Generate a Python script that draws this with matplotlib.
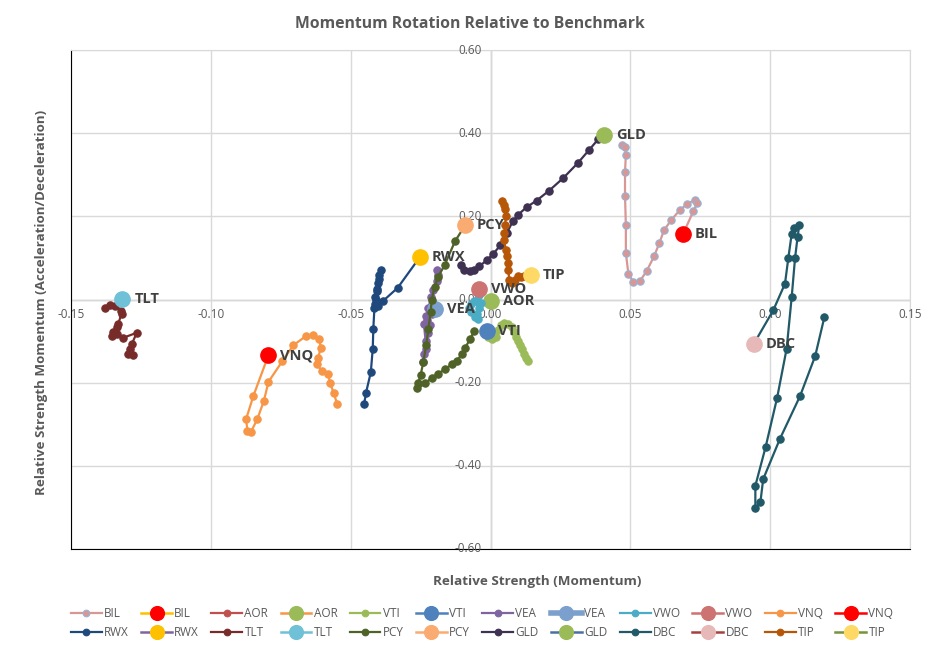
#!/usr/bin/env python3

"""Momentum rotation chart: trails of relative strength vs. its momentum,
with the latest reading of each ticker drawn as a big labelled dot."""

import matplotlib
matplotlib.use("Agg")
from matplotlib import pyplot as plt

plt.rcParams['font.family'] = ['Open Sans', 'DejaVu Sans']

# trails (oldest -> newest)
bil_x = [0.0469, 0.0481, 0.0484, 0.0481, 0.0481, 0.0484, 0.0484, 0.0493, 0.0511, 0.0535,
         0.0558, 0.0585, 0.0604, 0.0620, 0.0645, 0.0678, 0.0704, 0.0731, 0.0740, 0.0725, 0.0689]
bil_y = [0.372, 0.367, 0.348, 0.307, 0.250, 0.178, 0.112, 0.062, 0.042, 0.045,
         0.068, 0.104, 0.136, 0.166, 0.190, 0.216, 0.230, 0.240, 0.232, 0.212, 0.158]

aor_x = [0.0006, -0.0004, 0.0001]
aor_y = [-0.002, -0.005, -0.003]

vti_x = [0.0135, 0.0128, 0.0120, 0.0112, 0.0105, 0.0098, 0.0090, 0.0083, 0.0076, 0.0064,
         0.0050, 0.0038, 0.0028, 0.0018, 0.0005, -0.0008, -0.0014]
vti_y = [-0.148, -0.140, -0.130, -0.120, -0.110, -0.100, -0.090, -0.078, -0.066, -0.058,
         -0.056, -0.062, -0.074, -0.090, -0.096, -0.090, -0.075]

vea_x = [-0.0190, -0.0188, -0.0193, -0.0205, -0.0212, -0.0222, -0.0230, -0.0238, -0.0232,
         -0.0236, -0.0242, -0.0230, -0.0225, -0.0218, -0.0228, -0.0210, -0.0198]
vea_y = [0.072, 0.058, 0.044, 0.024, 0.006, -0.020, -0.040, -0.060, -0.100,
         -0.130, -0.150, -0.120, -0.080, -0.062, -0.050, -0.035, -0.024]

vwo_x = [-0.0041, -0.0035, -0.0040, -0.0050, -0.0045, -0.0055, -0.0068, -0.0078, -0.0070,
         -0.0060, -0.0045]
vwo_y = [0.010, -0.008, -0.020, -0.035, -0.048, -0.042, -0.030, -0.020, -0.010,
         -0.004, -0.006]

vnq_x = [-0.0548, -0.0560, -0.0574, -0.0580, -0.0604, -0.0619, -0.0616, -0.0607, -0.0612,
         -0.0634, -0.0660, -0.0705, -0.0744, -0.0794, -0.0810, -0.0834, -0.0857, -0.0869,
         -0.0874, -0.0848, -0.0794]
vnq_y = [-0.252, -0.226, -0.200, -0.180, -0.172, -0.156, -0.140, -0.116, -0.096,
         -0.086, -0.088, -0.110, -0.148, -0.198, -0.243, -0.288, -0.319, -0.316,
         -0.288, -0.232, -0.134]

rwx_x = [-0.0452, -0.0445, -0.0428, -0.0421, -0.0419, -0.0415, -0.0410, -0.0405, -0.0401,
         -0.0397, -0.0392, -0.0399, -0.0405, -0.0412, -0.0414, -0.0401, -0.0385, -0.0332,
         -0.0252]
rwx_y = [-0.252, -0.224, -0.175, -0.118, -0.070, -0.020, 0.000, 0.020, 0.040,
         0.060, 0.072, 0.050, 0.026, 0.006, -0.012, -0.016, -0.004, 0.028,
         0.1025]

tlt_x = [-0.1280, -0.1295, -0.1289, -0.1283, -0.1265, -0.1313, -0.1336, -0.1354, -0.1351,
         -0.1336, -0.1331, -0.1319, -0.1321, -0.1343, -0.1360, -0.1378]
tlt_y = [-0.134, -0.130, -0.120, -0.108, -0.080, -0.092, -0.084, -0.088, -0.078,
         -0.066, -0.058, -0.034, -0.028, -0.016, -0.014, -0.020]

pcy_x = [-0.0059, -0.0073, -0.0091, -0.0103, -0.0121, -0.0139, -0.0163, -0.0187, -0.0210,
         -0.0234, -0.0262, -0.0258, -0.0250, -0.0240, -0.0230, -0.0222, -0.0214, -0.0210,
         -0.0200, -0.0187, -0.0163, -0.0127, -0.0091]
pcy_y = [-0.076, -0.096, -0.116, -0.132, -0.148, -0.156, -0.168, -0.178, -0.188,
         -0.202, -0.214, -0.200, -0.182, -0.150, -0.110, -0.070, -0.030, 0.000,
         0.030, 0.055, 0.084, 0.140, 0.178]

gld_x = [-0.0105, -0.0093, -0.0075, -0.0058, -0.0040, -0.0014, 0.0010, 0.0035, 0.0058,
         0.0080, 0.0099, 0.0129, 0.0165, 0.0210, 0.0260, 0.0312, 0.0353, 0.0386, 0.0407]
gld_y = [0.082, 0.070, 0.068, 0.072, 0.080, 0.094, 0.110, 0.130, 0.160,
         0.188, 0.204, 0.222, 0.238, 0.262, 0.292, 0.328, 0.360, 0.386, 0.396]

dbc_x = [0.1194, 0.1161, 0.1107, 0.1035, 0.0975, 0.0965, 0.0947, 0.0947, 0.0984, 0.1025,
         0.1059, 0.1077, 0.1089, 0.1098, 0.1104, 0.1085, 0.1077, 0.1065, 0.1053, 0.1011, 0.0942]
dbc_y = [-0.042, -0.136, -0.232, -0.335, -0.432, -0.488, -0.502, -0.448, -0.354, -0.236,
         -0.118, 0.006, 0.100, 0.150, 0.178, 0.172, 0.158, 0.100, 0.038, -0.026, -0.106]

tip_x = [0.0040, 0.0047, 0.0052, 0.0055, 0.0052, 0.0050, 0.0048, 0.0055, 0.0058, 0.0062,
         0.0064, 0.0067, 0.0078, 0.0088, 0.0099, 0.0110, 0.0121, 0.0145]
tip_y = [0.236, 0.228, 0.218, 0.200, 0.178, 0.160, 0.142, 0.120, 0.104, 0.088,
         0.070, 0.046, 0.040, 0.046, 0.056, 0.054, 0.056, 0.060]

# latest reading of each ticker
tickers = ['BIL', 'AOR', 'VTI', 'VEA', 'VWO', 'VNQ', 'RWX', 'TLT', 'PCY', 'GLD', 'DBC', 'TIP']
head_x = [0.0689, 0.0001, -0.0014, -0.0198, -0.0041, -0.0794, -0.0252, -0.1316, -0.0091,
          0.0407, 0.0942, 0.0145]
head_y = [0.158, -0.003, -0.075, -0.024, 0.025, -0.134, 0.1025, 0.002, 0.178,
          0.396, -0.106, 0.060]

trails = [(bil_x, bil_y), (aor_x, aor_y), (vti_x, vti_y), (vea_x, vea_y), (vwo_x, vwo_y),
          (vnq_x, vnq_y), (rwx_x, rwx_y), (tlt_x, tlt_y), (pcy_x, pcy_y), (gld_x, gld_y),
          (dbc_x, dbc_y), (tip_x, tip_y)]

x_ticks = [-0.15, -0.10, -0.05, 0.00, 0.05, 0.10, 0.15]
y_ticks = [-0.60, -0.40, -0.20, 0.00, 0.20, 0.40, 0.60]

trail_colors = ['#D99694', '#C0504D', '#9BBB59', '#8064A2', '#4BACC6', '#F79646',
                '#1F497D', '#772C2A', '#4F6228', '#3F3151', '#215968', '#B65708']
head_colors = ['#FF0000', '#9BBB59', '#4F81BD', '#7BA0CD', '#CD7371', '#FF0000',
               '#FFC000', '#6EC1D6', '#FAAB71', '#9BBB59', '#E6B9B8', '#FFD966']
head_line_colors = ['#FFC000', '#F79646', '#4F81BD', '#7BA0CD', '#CD7371', '#FF0000',
                    '#8064A2', '#6EC1D6', '#FAAB71', '#4A6FA5', '#A5403E', '#77933C']

TEXT = '#595959'

fig = plt.figure(figsize=(9.4, 6.48), dpi=100)
ax = fig.add_axes((71 / 940, 1 - 549 / 648, 839 / 940, 499 / 648))
ax.set_xlim(-0.15, 0.15)
ax.set_ylim(-0.60, 0.60)
ax.set_xticks(x_ticks)
ax.set_yticks(y_ticks)
ax.tick_params(length=0, labelbottom=False, labelleft=False)
ax.grid(True, color='#D9D9D9', linewidth=1)
ax.set_axisbelow(True)
for side in ('top', 'right'):
    ax.spines[side].set_color('#D9D9D9')
for side in ('left', 'bottom'):
    ax.spines[side].set_color('black')
ax.axhline(0, color='#BFBFBF', linewidth=1, zorder=0.5)
ax.axvline(0, color='#BFBFBF', linewidth=1, zorder=0.5)

# tick labels sit on the zero lines, like Excel's crossing axes
for v in x_ticks:
    ax.annotate(f'{v:.2f}', (v, 0), xytext=(0, -6), textcoords='offset points',
                ha='center', va='top', fontsize=8.5, color=TEXT, annotation_clip=False)
for v in y_ticks:
    ax.annotate(f'{v:.2f}', (0, v), xytext=(-6.5, 0), textcoords='offset points',
                ha='right', va='center', fontsize=8.5, color=TEXT, annotation_clip=False)

trail_handles, head_handles = [], []
z = 2
for i, name in enumerate(tickers):
    tx, ty = trails[i]
    c = trail_colors[i]
    edge = '#95B3D7' if name == 'BIL' else c
    h, = ax.plot(tx, ty, color=c, linewidth=1.6, marker='o', markersize=5.3,
                 markerfacecolor=c, markeredgecolor=edge, markeredgewidth=0.8,
                 zorder=z, label=name)
    trail_handles.append(h)
    lw = 4 if name == 'VEA' else 1.8
    h, = ax.plot([head_x[i]], [head_y[i]], color=head_line_colors[i], linewidth=lw,
                 marker='o', markersize=11, markerfacecolor=head_colors[i],
                 markeredgecolor=head_colors[i], zorder=z + 1, label=name)
    head_handles.append(h)
    z += 2

for i, name in enumerate(tickers):
    ax.annotate(name, (head_x[i], head_y[i]), xytext=(8.5, 0), textcoords='offset points',
                ha='left', va='center', fontsize=10.5, fontweight='bold', color='#404040',
                zorder=40)

fig.suptitle('Momentum Rotation Relative to Benchmark', x=0.5, y=0.975, fontsize=11.3,
             fontweight='bold', color=TEXT)
fig.text(537 / 940, 1 - 582 / 648, 'Relative Strength (Momentum)', ha='center', va='center',
         fontsize=9.7, fontweight='bold', color=TEXT)
fig.text(42 / 940, 1 - 302 / 648, 'Relative Strength Momentum (Acceleration/Deceleration)',
         ha='center', va='center', rotation=90, fontsize=9.6, fontweight='bold', color=TEXT)

# legend: first row BIL..VNQ, second row RWX..TIP (pairs of trail + head)
pairs = []
for i in range(12):
    pairs.append(trail_handles[i])
    pairs.append(head_handles[i])
order = []
for k in range(12):
    order.append(pairs[k])
    order.append(pairs[k + 12])
fig.legend(handles=order, labels=[h.get_label() for h in order], ncol=12,
           loc='center', bbox_to_anchor=(0.513, 1 - 623 / 648), frameon=False,
           fontsize=8.5, labelcolor=TEXT, handlelength=2.6, handletextpad=0.2,
           columnspacing=1.05, markerscale=0.9, labelspacing=0.45)

fig.savefig('out.png', dpi=100)
